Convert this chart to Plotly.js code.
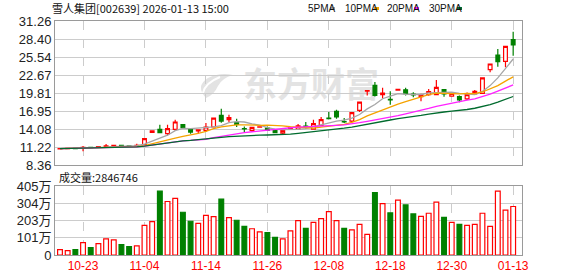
<!DOCTYPE html>
<html>
<head>
<meta charset="utf-8">
<script src="https://cdn.plot.ly/plotly-3.0.1.min.js"></script>
<style>html,body{margin:0;padding:0;background:#fff;}#chart{width:578px;height:276px;}</style>
</head>
<body>
<div id="chart"></div>
<script>
// ---- data ----
const dates = ['10-20','10-21','10-22','10-23','10-24','10-27','10-28','10-29','10-30','10-31',
  '11-03','11-04','11-05','11-06','11-07','11-10','11-11','11-12','11-13','11-14',
  '11-17','11-18','11-19','11-20','11-21','11-24','11-25','11-26','11-27','11-28',
  '12-01','12-02','12-03','12-04','12-05','12-08','12-09','12-10','12-11','12-12',
  '12-15','12-16','12-17','12-18','12-19','12-22','12-23','12-24','12-25','12-26',
  '12-29','12-30','12-31','01-05','01-06','01-07','01-08','01-09','01-12','01-13'];
const openP = [10.92,10.97,11.00,11.10,11.15,11.17,11.20,11.43,11.47,11.42,
  11.35,11.59,13.55,14.03,13.34,14.03,14.77,13.97,13.78,13.87,
  14.40,16.25,15.56,15.14,14.15,13.87,14.38,14.24,13.87,13.44,
  14.08,14.08,14.55,14.08,14.66,15.80,16.89,15.25,15.35,17.05,
  20.10,21.02,19.54,18.80,20.25,20.33,19.65,19.23,19.55,19.55,
  20.34,19.30,19.23,18.86,19.65,19.76,23.52,25.85,24.85,28.29];
const highP = [11.00,11.05,11.03,11.38,11.20,11.35,11.70,11.52,11.50,11.45,
  11.75,12.60,13.85,14.77,14.77,15.57,14.90,14.00,14.00,15.03,
  15.90,17.30,16.36,15.70,14.50,14.40,14.45,14.50,13.90,13.85,
  14.40,14.90,15.20,15.56,15.99,16.78,17.15,15.83,16.70,18.40,
  20.21,21.55,20.65,20.10,20.50,20.65,19.92,19.70,20.45,21.88,
  20.40,19.80,19.40,19.90,20.30,22.25,24.50,26.80,27.27,29.56];
const lowP = [10.90,10.92,10.92,10.53,11.05,11.12,11.17,11.40,11.38,11.33,
  11.22,11.50,13.45,13.45,13.07,13.76,14.10,13.34,13.34,13.60,
  14.35,15.09,15.20,14.40,13.60,13.60,14.30,13.80,13.45,13.23,
  14.00,13.97,14.13,14.00,14.60,15.68,15.72,15.03,15.20,16.78,
  19.43,19.27,18.92,17.95,20.15,19.43,19.12,18.50,19.39,19.50,
  19.23,19.20,18.33,18.70,19.55,19.70,23.10,24.00,23.89,25.75];
const closeP = [10.95,11.00,10.95,11.15,11.10,11.30,11.40,11.48,11.43,11.38,
  11.50,12.55,13.80,13.50,14.13,15.20,14.30,13.60,13.95,14.40,
  15.83,15.35,15.88,14.82,14.10,14.35,14.42,13.87,13.50,13.82,
  14.30,14.60,14.50,14.93,15.56,15.72,15.99,15.20,16.68,18.37,
  20.20,19.43,19.81,18.70,20.40,19.70,19.50,19.55,20.02,20.70,
  19.65,19.76,18.70,19.55,20.07,22.20,24.42,24.79,27.23,27.44];
const volume = [316000,257000,316000,730000,435000,670000,950000,890000,610000,490000,
  530000,1740000,1960000,3750000,3140000,3320000,2510000,1980000,1860000,2330000,
  2250000,3280000,2190000,2040000,1680000,1540000,1360000,1320000,1030000,950000,
  1420000,2020000,1560000,1920000,2130000,2550000,2016000,1560000,1480000,1800000,
  1205000,3656000,3020000,2470000,3220000,2940000,2410000,2270000,2450000,3100000,
  2210000,1920000,1800000,1740000,1800000,2450000,1680000,3750000,2630000,2846746];
const dateTicks = ['10-23','11-04','11-14','11-26','12-08','12-18','12-30','01-13'];
const priceTickVals = [8.36,11.2225,14.085,16.9475,19.81,22.6725,25.535,28.3975,31.26];
const priceTickText = ['8.36','11.22','14.08','16.95','19.81','22.67','25.54','28.40','31.26'];
const volTickVals = [0,1012500,2025000,3037500,4050000];
const volTickText = ['0','101万','203万','304万','405万'];
const maPeriods = [5,10,20,30];
const maNames = ['5PMA','10PMA','20PMA','30PMA'];
const maColors = ['#a6a6a6','#f5a300','#ff22ff','#006b2e'];
const titleText = '雪人集团[002639] 2026-01-13 15:00';
const volumeLabel = '成交量:2846746';
const watermarkText = '东方财富';

// ---- helpers ----
function movingAverage(arr, n){
  return arr.map((_, i) => {
    const s = Math.max(0, i - n + 1);
    let sum = 0;
    for (let k = s; k <= i; k++) sum += arr[k];
    return sum / (i - s + 1);
  });
}
const W = 578, H = 276, L = 55, R = 522, T = 21, B = 255;
const px = x => (x - L) / (R - L);
const py = y => (B - y) / (B - T);
const P = (x, y) => px(x).toFixed(4) + ',' + py(y).toFixed(4);

const RED = '#ff0000', GREEN = '#008000';
const up = closeP.map((c, i) => i === 0 || c >= closeP[i - 1]);

const traces = [];
traces.push({
  type: 'candlestick', x: dates, open: openP, high: highP, low: lowP, close: closeP,
  xaxis: 'x', yaxis: 'y', whiskerwidth: 0, hoverinfo: 'skip', showlegend: false,
  increasing: {line: {color: RED, width: 1.2}, fillcolor: '#ffffff'},
  decreasing: {line: {color: GREEN, width: 1.2}, fillcolor: GREEN}
});
maPeriods.forEach((n, k) => {
  traces.push({
    type: 'scatter', mode: 'lines', x: dates, y: movingAverage(closeP, n),
    xaxis: 'x', yaxis: 'y', line: {color: maColors[k], width: 1.3},
    hoverinfo: 'skip', showlegend: false, name: maNames[k]
  });
});
traces.push({
  type: 'bar', x: dates, y: volume, xaxis: 'x2', yaxis: 'y2', width: 0.62,
  marker: {color: up.map(u => u ? '#ffffff' : GREEN),
           line: {color: up.map(u => u ? RED : GREEN), width: 1.2}},
  hoverinfo: 'skip', showlegend: false
});

const axisCommon = {
  showline: true, mirror: true, linecolor: '#9a9a9a', linewidth: 1,
  zeroline: false, fixedrange: true, ticks: ''
};
const xCommon = Object.assign({}, axisCommon, {
  type: 'category', range: [-0.65, 60.15], tickmode: 'array', tickvals: dateTicks,
  ticktext: dateTicks, showgrid: true, gridcolor: '#cccccc', griddash: 'dash', gridwidth: 1
});

const annotations = [
  {text: titleText, x: px(50), y: py(8.5), xref: 'paper', yref: 'paper',
   xanchor: 'left', yanchor: 'middle', showarrow: false,
   font: {family: 'Noto Sans CJK SC', size: 11, color: '#111'}},
  {text: volumeLabel, x: px(57), y: py(177), xref: 'paper', yref: 'paper',
   xanchor: 'left', yanchor: 'middle', showarrow: false,
   font: {family: 'Noto Sans CJK SC', size: 11, color: '#111'}}
];
const legendX = [306, 343, 385, 427];
const squareX = [330, 374, 414, 457];
const shapes = [];
maNames.forEach((nm, k) => {
  annotations.push({text: nm, x: px(legendX[k]), y: py(8.5), xref: 'paper', yref: 'paper',
    xanchor: 'left', yanchor: 'middle', showarrow: false,
    font: {family: 'Liberation Sans', size: 10, color: '#111'}});
  shapes.push({type: 'rect', xref: 'paper', yref: 'paper', x0: px(squareX[k]), x1: px(squareX[k] + 5),
    y0: py(10), y1: py(7), fillcolor: maColors[k], line: {width: 0}});
});
// watermark (drawn below grid and data)
shapes.push({type: 'rect', xref: 'paper', yref: 'paper', layer: 'below',
  x0: px(238), x1: px(384), y0: py(102), y1: py(72), fillcolor: 'rgba(0,0,0,0)', line: {width: 0},
  label: {text: watermarkText, textposition: 'middle center',
    font: {family: 'Noto Sans CJK SC', size: 34, color: '#e3e3e3', weight: 'bold'}}});
shapes.push({type: 'path', xref: 'paper', yref: 'paper', layer: 'below',
  path: 'M' + P(206, 98) + ' Q' + P(195, 86) + ' ' + P(208, 78) + ' Q' + P(220, 72) + ' ' + P(233, 75) +
        ' Q' + P(222, 78) + ' ' + P(218, 86) + ' Q' + P(214, 95) + ' ' + P(206, 98) + ' Z',
  fillcolor: '#e3e3e3', line: {width: 0}});
shapes.push({type: 'path', xref: 'paper', yref: 'paper', layer: 'below',
  path: 'M' + P(203, 93) + ' Q' + P(205, 83) + ' ' + P(220, 77),
  fillcolor: 'rgba(0,0,0,0)', line: {color: '#ffffff', width: 2}});

const layout = {
  width: W, height: H, margin: {l: L, r: W - R, t: T, b: H - B, pad: 0},
  paper_bgcolor: '#ffffff', plot_bgcolor: '#ffffff', showlegend: false, dragmode: false,
  bargap: 0.3,
  xaxis: Object.assign({}, xCommon, {anchor: 'y', showticklabels: false, rangeslider: {visible: false}}),
  xaxis2: Object.assign({}, xCommon, {anchor: 'y2', matches: 'x', showticklabels: true,
    tickfont: {family: 'Liberation Sans', size: 12, color: '#ff0000'}}),
  yaxis: Object.assign({}, axisCommon, {domain: [py(165), 1], range: [8.36, 31.26],
    tickmode: 'array', tickvals: priceTickVals, ticktext: priceTickText,
    showgrid: true, gridcolor: '#cccccc', gridwidth: 1,
    tickfont: {family: 'Liberation Sans', size: 13, color: '#222'}}),
  yaxis2: Object.assign({}, axisCommon, {domain: [0, py(186)], range: [0, 4050000],
    tickmode: 'array', tickvals: volTickVals, ticktext: volTickText,
    showgrid: true, gridcolor: '#cccccc', gridwidth: 1,
    tickfont: {family: 'Liberation Sans, Noto Sans CJK SC', size: 13, color: '#222'}}),
  annotations: annotations, shapes: shapes
};

Plotly.newPlot('chart', traces, layout, {staticPlot: true, displayModeBar: false});
</script>
</body>
</html>
